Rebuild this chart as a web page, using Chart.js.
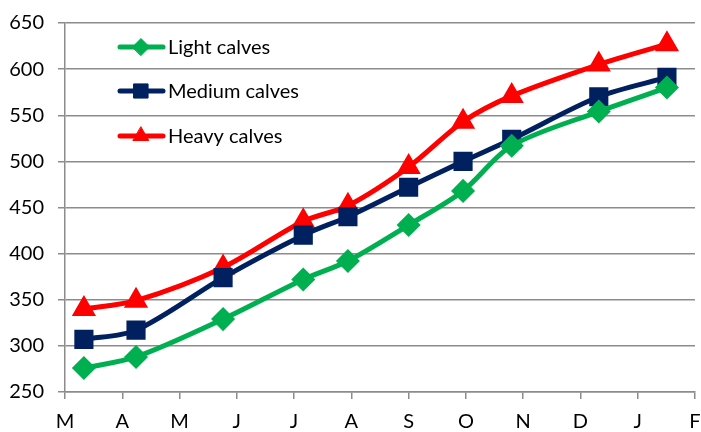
<!DOCTYPE html>
<html>
<head>
<meta charset="utf-8">
<script src="https://cdn.jsdelivr.net/npm/chart.js@4.4.1/dist/chart.umd.min.js"></script>
<style>
  html, body { margin: 0; padding: 0; background: #fff; overflow: hidden; }
  #wrap { width: 701px; height: 432px; position: relative; }
  canvas { display: block; }
</style>
</head>
<body>
<div id="wrap"><canvas id="calfChart"></canvas></div>
<script>
// month tick labels (x axis runs 0..11, one unit per month)
const monthLabels = ["M", "A", "M", "J", "J", "A", "S", "O", "N", "D", "J", "F"];
// weighing dates as fractional month positions
const weighPoints = [0.33, 1.24, 2.76, 4.16, 4.94, 6.0, 6.95, 7.8, 9.32, 10.51];
const lightCalves = [276, 288, 329, 372, 392, 431, 468, 517, 554, 580];
const mediumCalves = [307, 317, 374, 420, 440, 472, 500, 524, 570, 591];
const heavyCalves = [340, 349, 385, 435, 452, 494, 543, 571, 605, 627];

const FONT = "Lato, 'Open Sans', sans-serif";

function toXY(values) {
    return values.map((v, i) => ({ x: weighPoints[i], y: v }));
}

// legend drawn inside the plot area, top-left
const insideLegend = {
    id: "insideLegend",
    afterDatasetsDraw(chart) {
        const ctx = chart.ctx;
        const rows = [47, 91, 136];
        chart.data.datasets.forEach((ds, i) => {
            const y = rows[i];
            ctx.save();
            ctx.strokeStyle = ds.borderColor;
            ctx.lineWidth = 5;
            ctx.lineCap = "round";
            ctx.beginPath();
            ctx.moveTo(120, y);
            ctx.lineTo(163, y);
            ctx.stroke();
            ctx.fillStyle = ds.pointBackgroundColor;
            ctx.strokeStyle = ds.borderColor;
            ctx.lineWidth = 1;
            Chart.helpers.drawPoint(ctx, {
                pointStyle: ds.pointStyle,
                radius: ds.pointRadius,
                rotation: 0,
                borderWidth: 1
            }, 141, y);
            ctx.fillStyle = "#000";
            ctx.font = "20px " + FONT;
            ctx.textBaseline = "middle";
            ctx.textAlign = "left";
            ctx.fillText(ds.label, 168, y + 1);
            ctx.restore();
        });
    }
};

const ctx = document.getElementById("calfChart").getContext("2d");
new Chart(ctx, {
    type: "line",
    data: {
        datasets: [
            {
                label: "Light calves",
                data: toXY(lightCalves),
                borderColor: "#00B050",
                backgroundColor: "#00B050",
                pointBackgroundColor: "#00B050",
                pointStyle: "rectRot",
                pointRadius: 8.5,
                borderWidth: 5,
                tension: 0.3
            },
            {
                label: "Medium calves",
                data: toXY(mediumCalves),
                borderColor: "#002060",
                backgroundColor: "#002060",
                pointBackgroundColor: "#002060",
                pointStyle: "rect",
                pointRadius: 10,
                borderWidth: 5,
                tension: 0.3
            },
            {
                label: "Heavy calves",
                data: toXY(heavyCalves),
                borderColor: "#FF0000",
                backgroundColor: "#FF0000",
                pointBackgroundColor: "#FF0000",
                pointStyle: "triangle",
                pointRadius: 9,
                borderWidth: 5,
                tension: 0.3
            }
        ]
    },
    options: {
        responsive: true,
        maintainAspectRatio: false,
        animation: false,
        layout: { autoPadding: false, padding: { top: 23, right: 6, left: 0, bottom: 0 } },
        plugins: {
            legend: { display: false },
            tooltip: { enabled: false }
        },
        scales: {
            x: {
                type: "linear",
                min: 0,
                max: 11,
                afterFit: (scale) => { scale.height = 40; },
                ticks: {
                    stepSize: 1,
                    padding: 0,
                    color: "#000",
                    font: { family: FONT, size: 20, lineHeight: 2.3 },
                    callback: (v) => monthLabels[v]
                },
                grid: {
                    drawOnChartArea: false,
                    drawTicks: true,
                    tickLength: 7,
                    color: "#8c8c8c",
                    lineWidth: 1.5
                },
                border: { color: "#8c8c8c", width: 1.5 }
            },
            y: {
                min: 250,
                max: 650,
                afterFit: (scale) => {
                    scale.width = 65;
                    scale.paddingTop = 0;
                    scale.paddingBottom = 0;
                },
                ticks: {
                    stepSize: 50,
                    padding: 14,
                    color: "#000",
                    font: { family: FONT, size: 20 }
                },
                grid: {
                    color: "#8c8c8c",
                    lineWidth: 1.5,
                    tickLength: 7
                },
                border: { color: "#8c8c8c", width: 1.5 }
            }
        }
    },
    plugins: [insideLegend]
});
</script>
</body>
</html>
